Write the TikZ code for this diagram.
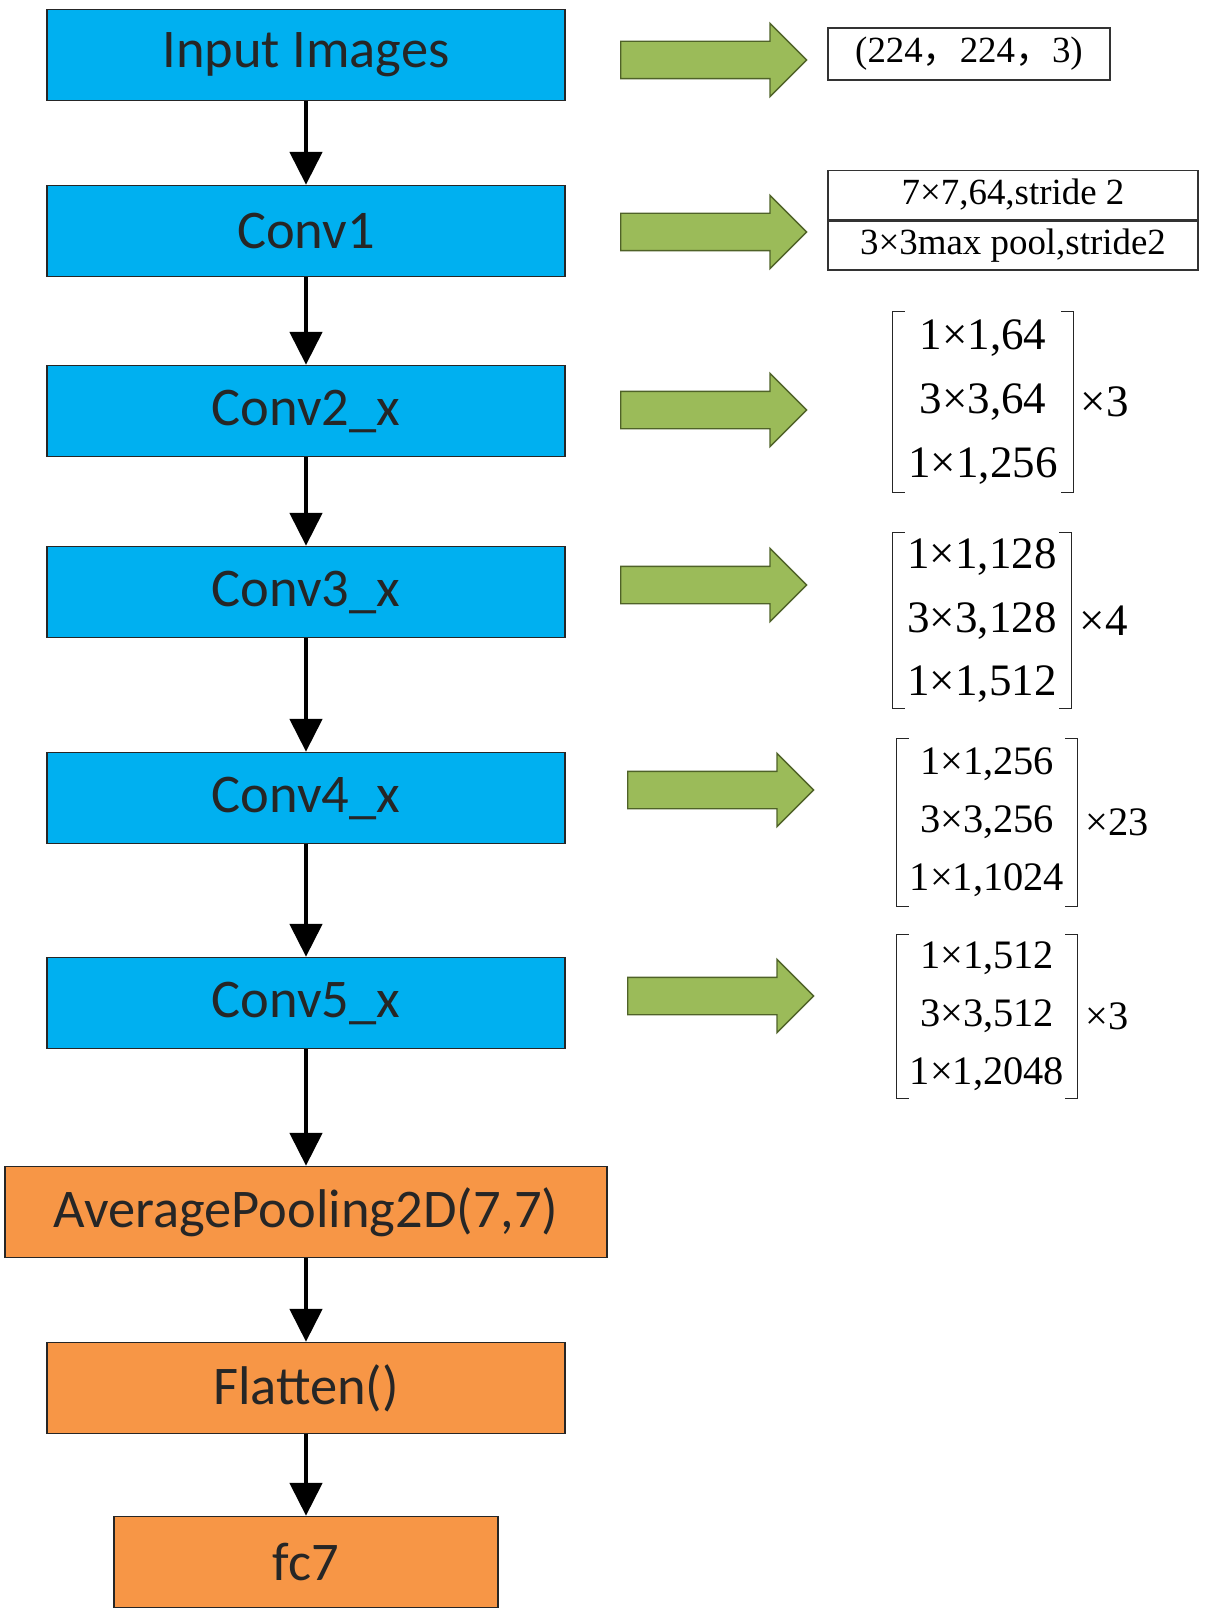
\documentclass[tikz,border=0pt]{standalone}
\usepackage{fontspec}
\setmainfont{Liberation Serif}
\newfontfamily\calibri{Carlito}
\newfontfamily\cjk{Noto Sans CJK SC}
\usepackage{tikz}
\usetikzlibrary{shapes,shapes.arrows,arrows.meta,positioning,calc}
\definecolor{convblue}{HTML}{00B0F0}
\definecolor{headorange}{HTML}{F79646}
\definecolor{arrowgreen}{HTML}{9BBB59}
\definecolor{arrowedge}{HTML}{4F6228}
\tikzstyle{line} = [draw, line width=2.8pt, -{Triangle[width=0.64cm,length=0.66cm]}]
\tikzstyle{layer} = [draw=black!85, line width=0.8pt, rectangle, fill=convblue, text=black!85, minimum width=10.36cm, minimum height=1.82cm, font=\calibri\fontsize{31}{37}\selectfont]
\tikzstyle{head} = [layer, fill=headorange]
\tikzstyle{garrow} = [draw=arrowedge, line width=0.8pt, fill=arrowgreen, single arrow, single arrow head extend=0.36cm, inner sep=0pt, inner ysep=0.36cm, minimum height=3.72cm, anchor=west]
\tikzstyle{infobox} = [draw=black!80, line width=0.8pt, rectangle, text centered, font=\fontsize{21}{25}\selectfont]
\tikzstyle{blockmat} = [inner sep=0pt, align=center, font=\fontsize{25.6}{36.4}\selectfont]
\tikzstyle{smallmat} = [inner sep=0pt, align=center, font=\fontsize{23}{33}\selectfont]
\tikzstyle{bracket} = [draw=black!85, line width=0.8pt]

\begin{document}
\begin{tikzpicture}[node distance = 3.6cm, auto]
        \useasboundingbox (-6.12,1.1) rectangle (18.5,-31.06);
        % main column
        \node[layer] (input) {Input Images};
        \node[layer, below of=input, node distance=3.52cm] (conv1) {Conv1};
        \node[layer, below of=conv1] (conv2) {Conv2\_x};
        \node[layer, below of=conv2, node distance=3.62cm] (conv3) {Conv3\_x};
        \node[layer, below of=conv3, node distance=4.12cm] (conv4) {Conv4\_x};
        \node[layer, below of=conv4, node distance=4.1cm] (conv5) {Conv5\_x};
        \node[head, below of=conv5, node distance=4.18cm, minimum width=12.04cm] (pool) {AveragePooling2D(7,7)};
        \node[head, below of=pool, node distance=3.52cm] (flat) {Flatten()};
        \node[head, below of=flat, node distance=3.48cm, minimum width=7.68cm] (fc) {fc7};
        \path[line] (input) -- (conv1);
        \path[line] (conv1) -- (conv2);
        \path[line] (conv2) -- (conv3);
        \path[line] (conv3) -- (conv4);
        \path[line] (conv4) -- (conv5);
        \path[line] (conv5) -- (pool);
        \path[line] (pool) -- (flat);
        \path[line] (flat) -- (fc);
        % green arrows
        \node[garrow] (ga0) at (6.28,-0.1) {};
        \node[garrow] (ga1) at (6.28,-3.54) {};
        \node[garrow] (ga2) at (6.28,-7.1) {};
        \node[garrow] (ga3) at (6.28,-10.6) {};
        \node[garrow] (ga4) at (6.42,-14.7) {};
        \node[garrow] (ga5) at (6.42,-18.82) {};
        % layer details
        \node[infobox, minimum width=5.64cm, minimum height=1.04cm] (shape) at (13.26,0.02) {(224{\cjk ，}224{\cjk ，}3)};
        \node[infobox, minimum width=7.4cm, minimum height=0.98cm] (kern) at (14.14,-2.8) {7×7,64,stride 2};
        \node[infobox, minimum width=7.4cm, minimum height=0.98cm, below=0pt of kern] (maxp) {3×3max pool,stride2};
        \node[blockmat, minimum width=3.6cm, minimum height=3.6cm] (m2) at (13.54,-6.94) {1×1,64\\3×3,64\\1×1,256};
        \node[blockmat, minimum width=3.56cm, minimum height=3.5cm] (m3) at (13.52,-11.31) {1×1,128\\3×3,128\\1×1,512};
        \node[smallmat, minimum width=3.6cm, minimum height=3.34cm] (m4) at (13.62,-15.35) {1×1,256\\3×3,256\\1×1,1024};
        \node[smallmat, minimum width=3.6cm, minimum height=3.26cm] (m5) at (13.62,-19.23) {1×1,512\\3×3,512\\1×1,2048};
        \path[bracket] ($(m2.north west)+(0.24,0)$) -- (m2.north west) -- (m2.south west) -- ++(0.24,0);
        \path[bracket] ($(m2.north east)+(-0.24,0)$) -- (m2.north east) -- (m2.south east) -- ++(-0.24,0);
        \path[bracket] ($(m3.north west)+(0.24,0)$) -- (m3.north west) -- (m3.south west) -- ++(0.24,0);
        \path[bracket] ($(m3.north east)+(-0.24,0)$) -- (m3.north east) -- (m3.south east) -- ++(-0.24,0);
        \path[bracket] ($(m4.north west)+(0.24,0)$) -- (m4.north west) -- (m4.south west) -- ++(0.24,0);
        \path[bracket] ($(m4.north east)+(-0.24,0)$) -- (m4.north east) -- (m4.south east) -- ++(-0.24,0);
        \path[bracket] ($(m5.north west)+(0.24,0)$) -- (m5.north west) -- (m5.south west) -- ++(0.24,0);
        \path[bracket] ($(m5.north east)+(-0.24,0)$) -- (m5.north east) -- (m5.south east) -- ++(-0.24,0);
        \node[blockmat, right=0.14cm of m2] (r2) {×3};
        \node[blockmat, right=0.16cm of m3] (r3) {×4};
        \node[smallmat, right=0.16cm of m4] (r4) {×23};
        \node[smallmat, right=0.16cm of m5] (r5) {×3};
    \end{tikzpicture}
\end{document}
